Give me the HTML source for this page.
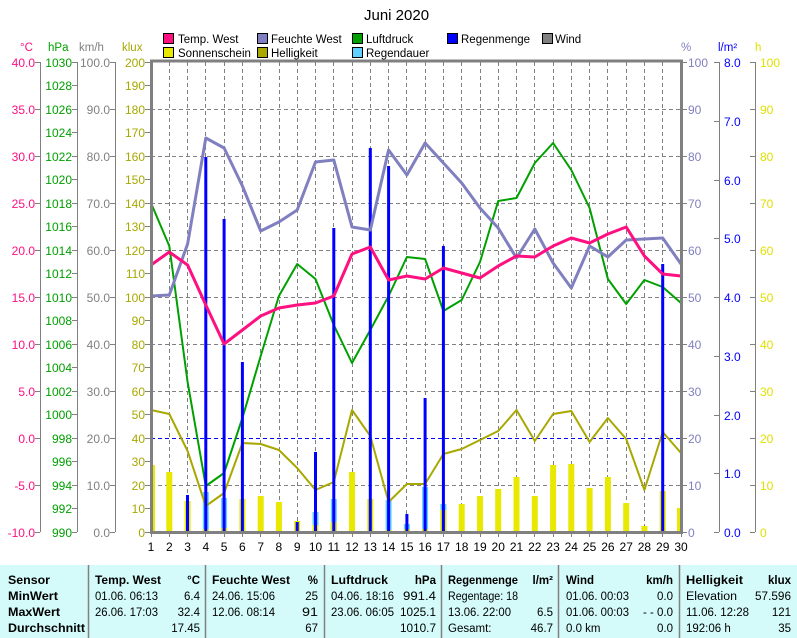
<!DOCTYPE html>
<html><head><meta charset="utf-8"><style>
body{margin:0;background:#fff;width:797px;height:638px;overflow:hidden}
svg{display:block;font-family:"Liberation Sans",sans-serif}
.t{font-family:"Liberation Sans Narrow","Liberation Sans",sans-serif;font-size:11.5px}
.b{font-weight:bold}
</style></head><body>
<svg width="797" height="638" viewBox="0 0 797 638">
<text x="364" y="20" font-size="15" fill="#000">Juni 2020</text>
<g font-size="11.5" fill="#000">
<rect x="163.5" y="33.5" width="10" height="10" fill="#FF1080" stroke="#000"/><text x="178" y="43">Temp. West</text>
<rect x="257.5" y="33.5" width="10" height="10" fill="#8080C0" stroke="#000"/><text x="271" y="43">Feuchte West</text>
<rect x="352.5" y="33.5" width="10" height="10" fill="#00A000" stroke="#000"/><text x="366" y="43">Luftdruck</text>
<rect x="447.5" y="33.5" width="10" height="10" fill="#0000FF" stroke="#000"/><text x="461" y="43">Regenmenge</text>
<rect x="542.5" y="33.5" width="10" height="10" fill="#808080" stroke="#000"/><text x="555" y="43">Wind</text>
<rect x="163.5" y="47.5" width="10" height="10" fill="#E8E800" stroke="#000"/><text x="178" y="57">Sonnenschein</text>
<rect x="257.5" y="47.5" width="10" height="10" fill="#A8A800" stroke="#000"/><text x="271" y="57">Helligkeit</text>
<rect x="352.5" y="47.5" width="10" height="10" fill="#60D0FF" stroke="#000"/><text x="366" y="57">Regendauer</text>
</g>
<g font-size="11.5">
<text x="20" y="51" fill="#FF1080">°C</text>
<text x="48" y="51" fill="#00A000">hPa</text>
<text x="79" y="51" fill="#808080">km/h</text>
<text x="122" y="51" fill="#A8A800">klux</text>
<text x="681" y="51" fill="#8080C0">%</text>
<text x="718" y="51" fill="#0000FF">l/m²</text>
<text x="755" y="51" fill="#E0E000">h</text>
</g>
<g stroke="#808080" stroke-width="1" stroke-dasharray="4,3">
<path d="M151 109.5H681M151 156.5H681M151 203.5H681M151 250.5H681M151 297.5H681M151 344.5H681M151 391.5H681M151 485.5H681"/>
<path d="M169.5 62V532M187.5 62V532M205.5 62V532M224.5 62V532M242.5 62V532M260.5 62V532M279.5 62V532M297.5 62V532M315.5 62V532M333.5 62V532M352.5 62V532M370.5 62V532M388.5 62V532M406.5 62V532M425.5 62V532M443.5 62V532M461.5 62V532M480.5 62V532M498.5 62V532M516.5 62V532M534.5 62V532M553.5 62V532M571.5 62V532M589.5 62V532M607.5 62V532M626.5 62V532M644.5 62V532M662.5 62V532"/>
</g>
<path d="M151 438.5H681" stroke="#0000FF" stroke-dasharray="4,3"/>
<g stroke="#808080" fill="none">
<path d="M40.5 62V532M77.5 62V532M115.5 62V532"/>
<path d="M35 62.5h5M35 109.5h5M35 156.5h5M35 203.5h5M35 250.5h5M35 297.5h5M35 344.5h5M35 391.5h5M35 438.5h5M35 485.5h5M35 532.5h5"/>
<path d="M72 62.5h5M72 85.5h5M72 109.5h5M72 132.5h5M72 156.5h5M72 179.5h5M72 203.5h5M72 226.5h5M72 250.5h5M72 273.5h5M72 297.5h5M72 320.5h5M72 344.5h5M72 367.5h5M72 391.5h5M72 414.5h5M72 438.5h5M72 461.5h5M72 485.5h5M72 508.5h5M72 532.5h5"/>
<path d="M110 62.5h5M110 109.5h5M110 156.5h5M110 203.5h5M110 250.5h5M110 297.5h5M110 344.5h5M110 391.5h5M110 438.5h5M110 485.5h5M110 532.5h5"/>
<path d="M145 62.5h6M145 85.5h6M145 109.5h6M145 132.5h6M145 156.5h6M145 179.5h6M145 203.5h6M145 226.5h6M145 250.5h6M145 273.5h6M145 297.5h6M145 320.5h6M145 344.5h6M145 367.5h6M145 391.5h6M145 414.5h6M145 438.5h6M145 461.5h6M145 485.5h6M145 508.5h6M145 532.5h6"/>
<path d="M719.5 62V532M755.5 62V532"/>
<path d="M681 62.5h6M681 109.5h6M681 156.5h6M681 203.5h6M681 250.5h6M681 297.5h6M681 344.5h6M681 391.5h6M681 438.5h6M681 485.5h6M681 532.5h6"/>
<path d="M714 62.5h5M714 121.5h5M714 180.5h5M714 238.5h5M714 297.5h5M714 356.5h5M714 415.5h5M714 473.5h5M714 532.5h5"/>
<path d="M750 62.5h5M750 109.5h5M750 156.5h5M750 203.5h5M750 250.5h5M750 297.5h5M750 344.5h5M750 391.5h5M750 438.5h5M750 485.5h5M750 532.5h5"/>
</g>
<g font-size="12" text-anchor="end">
<g fill="#FF1080"><text x="35" y="67">40.0</text><text x="35" y="114">35.0</text><text x="35" y="161">30.0</text><text x="35" y="208">25.0</text><text x="35" y="255">20.0</text><text x="35" y="302">15.0</text><text x="35" y="349">10.0</text><text x="35" y="396">5.0</text><text x="35" y="443">0.0</text><text x="35" y="490">-5.0</text><text x="35" y="537">-10.0</text></g>
<g fill="#00A000"><text x="72" y="67">1030</text><text x="72" y="90">1028</text><text x="72" y="114">1026</text><text x="72" y="137">1024</text><text x="72" y="161">1022</text><text x="72" y="184">1020</text><text x="72" y="208">1018</text><text x="72" y="231">1016</text><text x="72" y="255">1014</text><text x="72" y="278">1012</text><text x="72" y="302">1010</text><text x="72" y="325">1008</text><text x="72" y="349">1006</text><text x="72" y="372">1004</text><text x="72" y="396">1002</text><text x="72" y="419">1000</text><text x="72" y="443">998</text><text x="72" y="466">996</text><text x="72" y="490">994</text><text x="72" y="513">992</text><text x="72" y="537">990</text></g>
<g fill="#808080"><text x="110" y="67">100.0</text><text x="110" y="114">90.0</text><text x="110" y="161">80.0</text><text x="110" y="208">70.0</text><text x="110" y="255">60.0</text><text x="110" y="302">50.0</text><text x="110" y="349">40.0</text><text x="110" y="396">30.0</text><text x="110" y="443">20.0</text><text x="110" y="490">10.0</text><text x="110" y="537">0.0</text></g>
<g fill="#A8A800"><text x="145" y="67">200</text><text x="145" y="90">190</text><text x="145" y="114">180</text><text x="145" y="137">170</text><text x="145" y="161">160</text><text x="145" y="184">150</text><text x="145" y="208">140</text><text x="145" y="231">130</text><text x="145" y="255">120</text><text x="145" y="278">110</text><text x="145" y="302">100</text><text x="145" y="325">90</text><text x="145" y="349">80</text><text x="145" y="372">70</text><text x="145" y="396">60</text><text x="145" y="419">50</text><text x="145" y="443">40</text><text x="145" y="466">30</text><text x="145" y="490">20</text><text x="145" y="513">10</text><text x="145" y="537">0</text></g>
</g>
<g font-size="12">
<g fill="#8080C0"><text x="688" y="67">100</text><text x="688" y="114">90</text><text x="688" y="161">80</text><text x="688" y="208">70</text><text x="688" y="255">60</text><text x="688" y="302">50</text><text x="688" y="349">40</text><text x="688" y="396">30</text><text x="688" y="443">20</text><text x="688" y="490">10</text><text x="688" y="537">0</text></g>
<g fill="#0000FF"><text x="724" y="67">8.0</text><text x="724" y="126">7.0</text><text x="724" y="185">6.0</text><text x="724" y="243">5.0</text><text x="724" y="302">4.0</text><text x="724" y="361">3.0</text><text x="724" y="420">2.0</text><text x="724" y="478">1.0</text><text x="724" y="537">0.0</text></g>
<g fill="#E0E000"><text x="760" y="67">100</text><text x="760" y="114">90</text><text x="760" y="161">80</text><text x="760" y="208">70</text><text x="760" y="255">60</text><text x="760" y="302">50</text><text x="760" y="349">40</text><text x="760" y="396">30</text><text x="760" y="443">20</text><text x="760" y="490">10</text><text x="760" y="537">0</text></g>
</g>
<g fill="#60D0FF">
<rect x="202.8" y="492" width="6" height="40"/><rect x="221.1" y="498" width="6" height="34"/><rect x="312.5" y="512" width="6" height="20"/><rect x="330.8" y="499" width="6" height="33"/><rect x="385.6" y="500" width="6" height="32"/><rect x="403.9" y="524" width="6" height="8"/><rect x="422.1" y="487" width="6" height="45"/><rect x="440.4" y="504" width="6" height="28"/>
</g>
<g fill="#E8E800">
<rect x="151" y="465" width="4" height="67"/><rect x="166.3" y="472" width="6" height="60"/><rect x="184.6" y="501" width="6" height="31"/><rect x="202.8" y="529" width="6" height="3"/><rect x="221.1" y="528" width="6" height="4"/><rect x="239.4" y="499" width="6" height="33"/><rect x="257.7" y="496" width="6" height="36"/><rect x="275.9" y="502" width="6" height="30"/><rect x="294.2" y="521" width="6" height="11"/><rect x="312.5" y="525" width="6" height="7"/><rect x="330.8" y="522" width="6" height="10"/><rect x="349" y="472" width="6" height="60"/><rect x="367.3" y="499" width="6" height="33"/><rect x="385.6" y="530" width="6" height="2"/><rect x="403.9" y="529" width="6" height="3"/><rect x="422.1" y="529" width="6" height="3"/><rect x="440.4" y="510" width="6" height="22"/><rect x="458.7" y="504" width="6" height="28"/><rect x="477" y="496" width="6" height="36"/><rect x="495.2" y="489" width="6" height="43"/><rect x="513.5" y="477" width="6" height="55"/><rect x="531.8" y="496" width="6" height="36"/><rect x="550.1" y="465" width="6" height="67"/><rect x="568.3" y="464" width="6" height="68"/><rect x="586.6" y="488" width="6" height="44"/><rect x="604.9" y="477" width="6" height="55"/><rect x="623.2" y="503" width="6" height="29"/><rect x="641.4" y="526" width="6" height="6"/><rect x="659.7" y="491" width="6" height="41"/><rect x="677" y="508" width="4" height="24"/>
</g>
<g fill="none" stroke-linejoin="round">
<polyline stroke="#A8A800" stroke-width="2" points="151,410 169.3,414 187.6,451 205.8,506 224.1,493 242.4,443 260.7,444 278.9,450 297.2,468 315.5,490 333.8,482 352,410 370.3,436 388.6,502 406.9,484 425.1,484 443.4,454 461.7,449 480,440 498.2,431 516.5,410 534.8,441 553.1,414 571.3,411 589.6,442 607.9,418 626.2,439 644.4,490 662.7,432 681,453"/>
<polyline stroke="#00A000" stroke-width="2" points="151,203 169.3,246 187.6,382 205.8,486 224.1,473 242.4,418 260.7,356 278.9,296 297.2,264 315.5,279 333.8,325 352,363 370.3,330 388.6,296 406.9,257 425.1,259 443.4,311 461.7,300 480,262 498.2,201 516.5,198 534.8,163 553.1,143 571.3,170 589.6,208 607.9,279 626.2,304 644.4,280 662.7,287 681,303"/>
</g>
<g fill="#0000FF">
<rect x="186" y="495" width="3" height="37"/><rect x="204.3" y="157" width="3" height="375"/><rect x="222.6" y="219" width="3" height="313"/><rect x="240.9" y="362" width="3" height="170"/><rect x="295.7" y="522" width="3" height="10"/><rect x="314" y="452" width="3" height="80"/><rect x="332.3" y="228" width="3" height="304"/><rect x="368.8" y="148" width="3" height="384"/><rect x="387.1" y="166" width="3" height="366"/><rect x="405.4" y="514" width="3" height="18"/><rect x="423.6" y="398" width="3" height="134"/><rect x="441.9" y="246" width="3" height="286"/><rect x="661.2" y="264" width="3" height="268"/>
</g>
<g fill="none" stroke-linejoin="round">
<polyline stroke="#8080C0" stroke-width="3" points="151,296 169.3,295 187.6,244 205.8,138 224.1,148 242.4,186 260.7,231 278.9,222 297.2,210 315.5,162 333.8,160 352,227 370.3,230 388.6,150 406.9,175 425.1,143 443.4,163 461.7,183 480,208 498.2,228 516.5,258 534.8,229 553.1,263 571.3,288 589.6,246 607.9,257 626.2,240 644.4,239 662.7,238 681,264"/>
<polyline stroke="#FF1080" stroke-width="3" points="151,265 169.3,252 187.6,265 205.8,305 224.1,344 242.4,330 260.7,316 278.9,308 297.2,305 315.5,303 333.8,296 352,254 370.3,247 388.6,280 406.9,276 425.1,279 443.4,268 461.7,273 480,278 498.2,266 516.5,256 534.8,257 553.1,246 571.3,238 589.6,243 607.9,234 626.2,227 644.4,256 662.7,274 681,276"/>
</g>
<path d="M151.5 532V61H681.5V532M150 532.5H683" stroke="#808080" stroke-width="3" fill="none"/>
<path d="M151.5 532v5M169.5 532v5M187.5 532v5M205.5 532v5M224.5 532v5M242.5 532v5M260.5 532v5M279.5 532v5M297.5 532v5M315.5 532v5M333.5 532v5M352.5 532v5M370.5 532v5M388.5 532v5M406.5 532v5M425.5 532v5M443.5 532v5M461.5 532v5M480.5 532v5M498.5 532v5M516.5 532v5M534.5 532v5M553.5 532v5M571.5 532v5M589.5 532v5M607.5 532v5M626.5 532v5M644.5 532v5M662.5 532v5M681.5 532v5" stroke="#808080"/>
<g font-size="12" fill="#000" text-anchor="middle">
<text x="151" y="551">1</text><text x="169.3" y="551">2</text><text x="187.6" y="551">3</text><text x="205.8" y="551">4</text><text x="224.1" y="551">5</text><text x="242.4" y="551">6</text><text x="260.7" y="551">7</text><text x="278.9" y="551">8</text><text x="297.2" y="551">9</text><text x="315.5" y="551">10</text><text x="333.8" y="551">11</text><text x="352" y="551">12</text><text x="370.3" y="551">13</text><text x="388.6" y="551">14</text><text x="406.9" y="551">15</text><text x="425.1" y="551">16</text><text x="443.4" y="551">17</text><text x="461.7" y="551">18</text><text x="480" y="551">19</text><text x="498.2" y="551">20</text><text x="516.5" y="551">21</text><text x="534.8" y="551">22</text><text x="553.1" y="551">23</text><text x="571.3" y="551">24</text><text x="589.6" y="551">25</text><text x="607.9" y="551">26</text><text x="626.2" y="551">27</text><text x="644.4" y="551">28</text><text x="662.7" y="551">29</text><text x="681" y="551">30</text>
</g>
<rect x="0" y="565" width="797" height="73" fill="#D4FAFA"/>
<path d="M88.5 565V638M205.5 565V638M324.5 565V638M441.5 565V638M558.5 565V638M679.5 565V638" stroke="#808080" stroke-width="1.5"/>
<g class="t" fill="#000">
<g class="b"><text x="8" y="584" textLength="42" lengthAdjust="spacingAndGlyphs">Sensor</text><text x="8" y="600" textLength="50" lengthAdjust="spacingAndGlyphs">MinWert</text><text x="8" y="616" textLength="52" lengthAdjust="spacingAndGlyphs">MaxWert</text><text x="8" y="632" textLength="77" lengthAdjust="spacingAndGlyphs">Durchschnitt</text>
<text x="95" y="584" textLength="66" lengthAdjust="spacingAndGlyphs">Temp. West</text><text x="200" y="584" text-anchor="end">°C</text>
<text x="212" y="584" textLength="78" lengthAdjust="spacingAndGlyphs">Feuchte West</text><text x="318" y="584" text-anchor="end">%</text>
<text x="331" y="584" textLength="57" lengthAdjust="spacingAndGlyphs">Luftdruck</text><text x="436" y="584" text-anchor="end">hPa</text>
<text x="448" y="584" textLength="70" lengthAdjust="spacingAndGlyphs">Regenmenge</text><text x="553" y="584" text-anchor="end">l/m²</text>
<text x="566" y="584">Wind</text><text x="673" y="584" text-anchor="end">km/h</text>
<text x="686" y="584" textLength="57" lengthAdjust="spacingAndGlyphs">Helligkeit</text><text x="791" y="584" text-anchor="end">klux</text></g>
<text x="95" y="600" textLength="63" lengthAdjust="spacingAndGlyphs">01.06.  06:13</text><text x="200" y="600" text-anchor="end">6.4</text>
<text x="95" y="616" textLength="63" lengthAdjust="spacingAndGlyphs">26.06.  17:03</text><text x="200" y="616" text-anchor="end">32.4</text>
<text x="200" y="632" text-anchor="end">17.45</text>
<text x="212" y="600" textLength="63" lengthAdjust="spacingAndGlyphs">24.06.  15:06</text><text x="318" y="600" text-anchor="end">25</text>
<text x="212" y="616" textLength="63" lengthAdjust="spacingAndGlyphs">12.06.  08:14</text><text x="318" y="616" textLength="16" lengthAdjust="spacingAndGlyphs" text-anchor="end">91</text>
<text x="318" y="632" text-anchor="end">67</text>
<text x="331" y="600" textLength="63" lengthAdjust="spacingAndGlyphs">04.06.  18:16</text><text x="436" y="600" text-anchor="end" textLength="33" lengthAdjust="spacingAndGlyphs">991.4</text>
<text x="331" y="616" textLength="63" lengthAdjust="spacingAndGlyphs">23.06.  06:05</text><text x="436" y="616" text-anchor="end" textLength="36" lengthAdjust="spacingAndGlyphs">1025.1</text>
<text x="436" y="632" text-anchor="end" textLength="36" lengthAdjust="spacingAndGlyphs">1010.7</text>
<text x="448" y="600" textLength="70" lengthAdjust="spacingAndGlyphs">Regentage: 18</text>
<text x="448" y="616" textLength="63" lengthAdjust="spacingAndGlyphs">13.06.  22:00</text><text x="553" y="616" text-anchor="end">6.5</text>
<text x="448" y="632">Gesamt:</text><text x="553" y="632" text-anchor="end">46.7</text>
<text x="566" y="600" textLength="63" lengthAdjust="spacingAndGlyphs">01.06.  00:03</text><text x="673" y="600" text-anchor="end">0.0</text>
<text x="566" y="616" textLength="63" lengthAdjust="spacingAndGlyphs">01.06.  00:03</text><text x="673" y="616" text-anchor="end" textLength="30" lengthAdjust="spacingAndGlyphs">- - 0.0</text>
<text x="566" y="632">0.0 km</text><text x="673" y="632" text-anchor="end">0.0</text>
<text x="686" y="600" textLength="51" lengthAdjust="spacingAndGlyphs">Elevation</text><text x="791" y="600" text-anchor="end" textLength="36" lengthAdjust="spacingAndGlyphs">57.596</text>
<text x="686" y="616" textLength="63" lengthAdjust="spacingAndGlyphs">11.06.  12:28</text><text x="791" y="616" text-anchor="end">121</text>
<text x="686" y="632">192:06 h</text><text x="791" y="632" text-anchor="end">35</text>
</g>
</svg>
</body></html>
